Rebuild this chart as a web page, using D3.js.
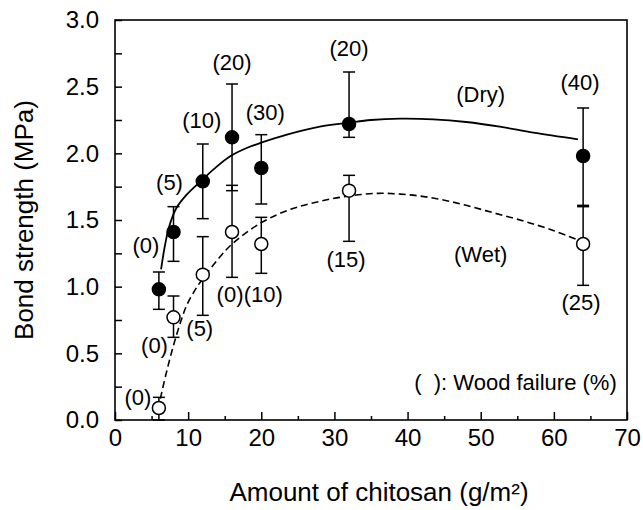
<!DOCTYPE html>
<html>
<head>
<meta charset="utf-8">
<script src="https://cdn.jsdelivr.net/npm/d3@7"></script>
<style>
  body { margin: 0; background: #fff; }
  text { font-family: "Liberation Sans", Arial, Helvetica, sans-serif; fill: #000; }
</style>
</head>
<body>
<svg id="chart" width="643" height="510"></svg>
<script>
// chitosan amount (g/m2)
const amount = [6, 8, 12, 16, 20, 32, 64];

// bond strength (MPa), mean with error bar ends
const dryMean = [0.98, 1.41, 1.79, 2.12, 1.89, 2.22, 1.98];
const dryHigh = [1.11, 1.60, 2.07, 2.52, 2.14, 2.61, 2.34];
const dryLow  = [0.83, 1.19, 1.51, 1.72, 1.62, 2.12, 1.61];
const wetMean = [0.09, 0.77, 1.09, 1.41, 1.32, 1.72, 1.32];
const wetHigh = [0.17, 0.93, 1.375, 1.76, 1.52, 1.835, 1.60];
const wetLow  = [0.00, 0.62, 0.785, 1.07, 1.10, 1.34, 1.01];

// wood failure (%)
const dryWF = ["(0)", "(5)", "(10)", "(20)", "(30)", "(20)", "(40)"];
const wetWF = ["(0)", "(0)", "(5)", "(0)", "(10)", "(15)", "(25)"];

// fitted curves
const dryCurve = [[6.3, 1.13], [6.8, 1.3], [7.4, 1.45], [8.4, 1.59], [9.8, 1.69], [11.9, 1.8],
  [13.9, 1.9], [15.8, 1.98], [18, 2.04], [20, 2.08], [23.5, 2.14], [28, 2.2], [32, 2.23],
  [35, 2.25], [39, 2.26], [43.5, 2.255], [48, 2.235], [52.6, 2.2], [57.2, 2.155], [63.3, 2.105]];
const wetCurve = [[6.2, 0.16], [7, 0.35], [8, 0.56], [9, 0.74], [9.8, 0.86], [11, 0.98], [12, 1.06],
  [14, 1.2], [16, 1.32], [20, 1.48], [24, 1.58], [28, 1.64], [32, 1.68], [36, 1.70], [40, 1.69],
  [44, 1.66], [48, 1.61], [52, 1.55], [56, 1.49], [60, 1.42], [63.3, 1.35]];

const xTicks = [0, 10, 20, 30, 40, 50, 60, 70];
const xMinor = [5, 15, 25, 35, 45, 55, 65];
const yTicks = d3.range(0, 3.01, 0.25);

// label offsets in px from the marker
const dryLabelOff = [[-13, -44], [-4, -50], [-1, -61], [0, -75], [4, -56], [0, -76], [-3, -74]];
const wetLabelOff = [[-21, -11], [-19, 28], [-3, 54], [-2, 62], [2, 50], [-3, 69], [-2, 58]];

const margin = {top: 20, right: 16, bottom: 90, left: 115};
const width = 643 - margin.left - margin.right;
const height = 510 - margin.top - margin.bottom;

const svg = d3.select("#chart");
const g = svg.append("g").attr("transform", `translate(${margin.left},${margin.top})`);

const x = d3.scaleLinear().domain([0, 70]).range([0, width]);
const y = d3.scaleLinear().domain([0, 3]).range([height, 0]);

// axes (ticks point inward)
const xAxis = g.append("g").attr("transform", `translate(0,${height})`)
  .call(d3.axisBottom(x).tickValues(xTicks).tickSize(-8).tickPadding(9).tickFormat(d3.format("d")));
const xAxisMinor = g.append("g").attr("transform", `translate(0,${height})`)
  .call(d3.axisBottom(x).tickValues(xMinor).tickSize(-4).tickFormat(""));
const yAxis = g.append("g")
  .call(d3.axisLeft(y).tickValues(yTicks).tickSize(-7).tickPadding(16)
    .tickFormat(d => (Math.round(d * 4) % 2 === 0) ? d3.format(".1f")(d) : ""));

[xAxis, xAxisMinor, yAxis].forEach(a => {
  a.select(".domain").remove();
  a.selectAll("line").attr("stroke", "#000").attr("stroke-width", 1.5);
  a.selectAll("text").style("font-size", "24px")
    .style("font-family", "'Liberation Sans', Arial, sans-serif");
});

g.append("rect")
  .attr("width", width).attr("height", height)
  .attr("fill", "none").attr("stroke", "#000").attr("stroke-width", 1.6);

// curves
const line = d3.line().x(d => x(d[0])).y(d => y(d[1])).curve(d3.curveCatmullRom);
g.append("path").datum(dryCurve).attr("d", line)
  .attr("fill", "none").attr("stroke", "#000").attr("stroke-width", 1.8);
g.append("path").datum(wetCurve).attr("d", line)
  .attr("fill", "none").attr("stroke", "#000").attr("stroke-width", 1.6)
  .attr("stroke-dasharray", "7,4");

// error bars and markers
function series(mean, lo, hi, filled) {
  const data = amount.map((a, i) => ({x: a, m: mean[i], lo: lo[i], hi: hi[i]}));
  const eb = g.append("g").selectAll("g").data(data).join("g");
  eb.append("line")
    .attr("x1", d => x(d.x)).attr("x2", d => x(d.x))
    .attr("y1", d => y(d.lo)).attr("y2", d => y(d.hi));
  [d => d.lo, d => d.hi].forEach(f => {
    eb.append("line")
      .attr("x1", d => x(d.x) - 6).attr("x2", d => x(d.x) + 6)
      .attr("y1", d => y(f(d))).attr("y2", d => y(f(d)));
  });
  eb.selectAll("line").attr("stroke", "#000").attr("stroke-width", 1.5);
  g.append("g").selectAll("circle").data(data).join("circle")
    .attr("cx", d => x(d.x)).attr("cy", d => y(d.m)).attr("r", 6.5)
    .attr("fill", filled ? "#000" : "#fff")
    .attr("stroke", "#000").attr("stroke-width", 1.5);
}
series(dryMean, dryLow, dryHigh, true);
series(wetMean, wetLow, wetHigh, false);

// wood failure labels
function labels(mean, txt, off) {
  g.append("g").selectAll("text").data(amount).join("text")
    .attr("x", (d, i) => x(d) + off[i][0])
    .attr("y", (d, i) => y(mean[i]) + off[i][1])
    .attr("text-anchor", "middle").attr("dominant-baseline", "central")
    .style("font-size", "22px")
    .text((d, i) => txt[i]);
}
labels(dryMean, dryWF, dryLabelOff);
labels(wetMean, wetWF, wetLabelOff);

g.append("text").attr("x", x(50)).attr("y", y(2.44))
  .attr("text-anchor", "middle").attr("dominant-baseline", "central")
  .style("font-size", "22px").text("(Dry)");
g.append("text").attr("x", x(50)).attr("y", y(1.24))
  .attr("text-anchor", "middle").attr("dominant-baseline", "central")
  .style("font-size", "22px").text("(Wet)");
g.append("text").attr("x", x(68.6)).attr("y", y(0.28))
  .attr("text-anchor", "end").attr("dominant-baseline", "central")
  .style("font-size", "22px").attr("xml:space", "preserve").text("(  ): Wood failure (%)");

// axis titles
svg.append("text")
  .attr("x", 379).attr("y", 501)
  .attr("text-anchor", "middle").style("font-size", "26px")
  .text("Amount of chitosan (g/m²)");
svg.append("text")
  .attr("transform", `translate(33,220) rotate(-90)`)
  .attr("text-anchor", "middle").style("font-size", "26px")
  .text("Bond strength (MPa)");
</script>
</body>
</html>
